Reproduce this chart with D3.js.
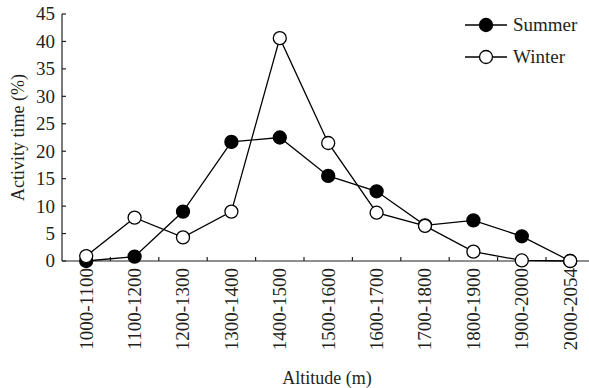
<!DOCTYPE html>
<html>
<head>
<meta charset="utf-8">
<script src="https://cdn.jsdelivr.net/npm/d3@7"></script>
<style>
  body { margin: 0; background: #fff; }
</style>
</head>
<body>
<div id="chart"></div>
<script>
// chart data
const altitudes = ["1000-1100", "1100-1200", "1200-1300", "1300-1400", "1400-1500", "1500-1600",
                   "1600-1700", "1700-1800", "1800-1900", "1900-2000", "2000-2054"];
const summer = [0, 0.8, 9, 21.7, 22.5, 15.5, 12.7, 6.5, 7.4, 4.5, 0];
const winter = [0.9, 7.9, 4.3, 9, 40.6, 21.5, 8.8, 6.4, 1.7, 0.1, 0];
const y_ticks = [0, 5, 10, 15, 20, 25, 30, 35, 40, 45];

const width = 589; const height = 388;
const margin = {top: 14, right: 0, bottom: 127, left: 62};
const font = 'Liberation Serif';
const ink = '#231f20';

let svg = d3.select('#chart')
    .append('svg')
        .attr('width', width)
        .attr('height', height)
        .attr('font-family', font)
        .attr('fill', ink);

const x_scale = d3.scaleBand()
    .domain(altitudes)
    .range([margin.left, margin.left + 11 * 48.4]);
const y_scale = d3.scaleLinear()
    .domain([0, 45])
    .range([height - margin.bottom, margin.top]);

const cx = d => x_scale(d) + x_scale.bandwidth() / 2;

// y axis
svg.append('line')
    .attr('x1', margin.left).attr('x2', margin.left)
    .attr('y1', y_scale(45)).attr('y2', y_scale(0))
    .attr('stroke', ink).attr('stroke-width', 1.2);
svg.append('g')
    .selectAll('line')
    .data(y_ticks)
    .join('line')
        .attr('x1', margin.left).attr('x2', margin.left + 4)
        .attr('y1', d => y_scale(d)).attr('y2', d => y_scale(d))
        .attr('stroke', ink).attr('stroke-width', 1.2);
svg.append('g')
    .selectAll('text')
    .data(y_ticks)
    .join('text')
        .attr('x', margin.left - 7)
        .attr('y', d => y_scale(d))
        .attr('dy', '0.34em')
        .attr('text-anchor', 'end')
        .attr('font-family', font)
        .attr('font-size', 19)
        .text(d => d);

// x axis
svg.append('line')
    .attr('x1', margin.left).attr('x2', width)
    .attr('y1', y_scale(0)).attr('y2', y_scale(0))
    .attr('stroke', ink).attr('stroke-width', 1.2);
svg.append('g')
    .selectAll('line')
    .data(altitudes.slice(1))
    .join('line')
        .attr('x1', d => x_scale(d)).attr('x2', d => x_scale(d))
        .attr('y1', y_scale(0)).attr('y2', y_scale(0) - 4)
        .attr('stroke', ink).attr('stroke-width', 1.2);
svg.append('g')
    .selectAll('text')
    .data(altitudes)
    .join('text')
        .attr('transform', d => `translate(${cx(d)}, ${y_scale(0) + 7}) rotate(-90)`)
        .attr('dy', '0.34em')
        .attr('text-anchor', 'end')
        .attr('font-family', font)
        .attr('font-size', 19)
        .text(d => d);

// axis titles
svg.append('text')
    .attr('transform', `translate(18, ${(y_scale(0) + y_scale(45)) / 2}) rotate(-90)`)
    .attr('dy', '0.34em')
    .attr('text-anchor', 'middle')
    .attr('font-family', font)
    .attr('font-size', 18)
    .text('Activity time (%)');
svg.append('text')
    .attr('x', 327)
    .attr('y', 384)
    .attr('text-anchor', 'middle')
    .attr('font-family', font)
    .attr('font-size', 18)
    .text('Altitude (m)');

// lines and markers
const series = [
    {name: 'Summer', values: summer, fill: '#000'},
    {name: 'Winter', values: winter, fill: '#fff'}
];
const line = d3.line()
    .x((d, i) => cx(altitudes[i]))
    .y(d => y_scale(d));

series.forEach(function(s){
    svg.append('path')
        .datum(s.values)
        .attr('d', line)
        .attr('fill', 'none')
        .attr('stroke', '#000')
        .attr('stroke-width', 1.3);
});
series.forEach(function(s){
    svg.append('g')
        .selectAll('circle')
        .data(s.values)
        .join('circle')
            .attr('cx', (d, i) => cx(altitudes[i]))
            .attr('cy', d => y_scale(d))
            .attr('r', 6.5)
            .attr('fill', s.fill)
            .attr('stroke', '#000')
            .attr('stroke-width', 1.3);
});

// legend
const legend = svg.append('g')
    .selectAll('g')
    .data(series)
    .join('g')
        .attr('transform', (d, i) => `translate(465, ${25 + i * 32})`);
legend.append('line')
    .attr('x1', 0).attr('x2', 42)
    .attr('stroke', '#000').attr('stroke-width', 1.3);
legend.append('circle')
    .attr('cx', 21)
    .attr('r', 6.5)
    .attr('fill', d => d.fill)
    .attr('stroke', '#000')
    .attr('stroke-width', 1.3);
legend.append('text')
    .attr('x', 48)
    .attr('dy', '0.34em')
    .attr('font-family', font)
    .attr('font-size', 19)
    .text(d => d.name);
</script>
</body>
</html>
